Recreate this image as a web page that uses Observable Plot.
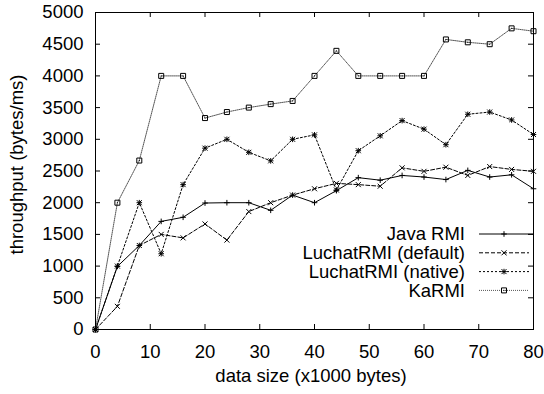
<!DOCTYPE html>
<html>
<head>
<meta charset="utf-8">
<script src="https://cdn.jsdelivr.net/npm/d3@7"></script>
<script src="https://cdn.jsdelivr.net/npm/@observablehq/plot@0.6"></script>
<style>
  html, body { margin: 0; padding: 0; background: #fff; }
  #chart svg { display: block; }
</style>
</head>
<body>
<div id="chart"></div>
<script>
// ---- data ----
const dataSize = [0, 4, 8, 12, 16, 20, 24, 28, 32, 36, 40, 44, 48, 52, 56, 60, 64, 68, 72, 76, 80];
const javaRMI = [0, 995, 1325, 1705, 1770, 1995, 2000, 2000, 1880, 2120, 2000, 2190, 2395, 2355, 2430, 2405, 2365, 2510, 2405, 2440, 2220];
const luchatDefault = [0, 365, 1325, 1500, 1445, 1665, 1410, 1860, 2000, 2120, 2220, 2305, 2285, 2260, 2550, 2495, 2560, 2430, 2570, 2525, 2495];
const luchatNative = [0, 1000, 2000, 1195, 2285, 2860, 3000, 2795, 2660, 3000, 3070, 2200, 2820, 3055, 3295, 3160, 2915, 3395, 3430, 3305, 3075];
const kaRMI = [0, 2000, 2665, 4000, 4000, 3335, 3430, 3500, 3555, 3605, 4000, 4395, 4000, 4000, 4000, 4000, 4575, 4530, 4500, 4750, 4705];
const seriesNames = ["Java RMI", "LuchatRMI (default)", "LuchatRMI (native)", "KaRMI"];
const xTicks = [0, 10, 20, 30, 40, 50, 60, 70, 80];
const yTicks = [0, 500, 1000, 1500, 2000, 2500, 3000, 3500, 4000, 4500, 5000];

// ---- symbols ----
const symPlus = {draw(c) { c.moveTo(-2.8, 0); c.lineTo(2.8, 0); c.moveTo(0, -2.8); c.lineTo(0, 2.8); }};
const symTimes = {draw(c) { c.moveTo(-2.5, -2.5); c.lineTo(2.5, 2.5); c.moveTo(-2.5, 2.5); c.lineTo(2.5, -2.5); }};
const symStar = {draw(c) { symPlus.draw(c); symTimes.draw(c); }};
const symSquare = {draw(c) { c.moveTo(-2.5, -2.5); c.lineTo(2.5, -2.5); c.lineTo(2.5, 2.5); c.lineTo(-2.5, 2.5); c.closePath(); c.moveTo(-0.5, 0); c.lineTo(0.5, 0); }};

const styles = [
  {values: javaRMI, dash: null, symbol: symPlus, stroke: "#000"},
  {values: luchatDefault, dash: "4,2", symbol: symTimes, stroke: "#000"},
  {values: luchatNative, dash: "2,2", symbol: symStar, stroke: "#000"},
  {values: kaRMI, dash: "1,1", symbol: symSquare, stroke: "#555"}
];

const W = 544, H = 394;
const mL = 95, mR = 11, mT = 12, mB = 65;
const plotW = W - mL - mR, plotH = H - mT - mB;
const tick = 5;
const FS = 18.5;

const marks = [];
styles.forEach((s, i) => {
  const rows = dataSize.map((x, j) => ({x, y: s.values[j], series: seriesNames[i]}));
  marks.push(Plot.line(rows, {x: "x", y: "y", stroke: s.stroke, strokeWidth: 1, strokeDasharray: s.dash}));
});
styles.forEach((s, i) => {
  const rows = dataSize.map((x, j) => ({x, y: s.values[j]}));
  marks.push(Plot.dot(rows, {x: "x", y: "y", symbol: s.symbol, r: 3, stroke: "#000", strokeWidth: 1, fill: "none"}));
});

const chart = Plot.plot({
  width: W,
  height: H,
  marginLeft: mL,
  marginRight: mR,
  marginTop: mT,
  marginBottom: mB,
  style: {fontFamily: "'Liberation Sans', Arial, sans-serif", fontSize: FS + "px", color: "#000", background: "#fff"},
  x: {domain: [0, 80]},
  y: {domain: [0, 5000]},
  marks: [
    Plot.axisX(xTicks, {tickSize: 0, tickPadding: 15, label: null, fontSize: FS, tickFormat: d3.format("d")}),
    Plot.axisY(yTicks, {tickSize: 0, tickPadding: 12, label: null, fontSize: FS, tickFormat: d3.format("d")}),
    Plot.tickX(xTicks, {x: d => d, insetTop: plotH - tick, stroke: "#000"}),
    Plot.tickX(xTicks, {x: d => d, insetBottom: plotH - tick, stroke: "#000"}),
    Plot.tickY(yTicks, {y: d => d, insetRight: plotW - tick, stroke: "#000"}),
    Plot.tickY(yTicks, {y: d => d, insetLeft: plotW - tick, stroke: "#000"}),
    ...marks,
    Plot.frame({stroke: "#000", strokeWidth: 1})
  ]
});

const svg = d3.select(chart);
// axis titles
svg.append("text").attr("x", mL + plotW / 2 - 3).attr("y", 382).attr("text-anchor", "middle")
  .style("font-size", FS + "px").text("data size (x1000 bytes)");
svg.append("text").attr("transform", `translate(23,${mT + plotH / 2 - 6}) rotate(-90)`).attr("text-anchor", "middle")
  .style("font-size", FS + "px").text("throughput (bytes/ms)");

// legend
const lg = svg.append("g");
styles.forEach((s, i) => {
  const yy = 234 + i * 18.8;
  lg.append("text").attr("x", 465).attr("y", yy).attr("dy", "0.35em").attr("text-anchor", "end")
    .style("font-size", FS + "px").text(seriesNames[i]);
  lg.append("line").attr("x1", 479).attr("x2", i === 0 ? 533 : 529).attr("y1", yy).attr("y2", yy)
    .attr("stroke", s.stroke).attr("stroke-width", 1).attr("stroke-dasharray", s.dash);
  const p = d3.path();
  s.symbol.draw(p);
  lg.append("path").attr("d", p.toString()).attr("transform", `translate(504,${yy})`)
    .attr("stroke", "#000").attr("fill", "none").attr("stroke-width", 1);
});

document.getElementById("chart").appendChild(chart);
</script>
</body>
</html>
